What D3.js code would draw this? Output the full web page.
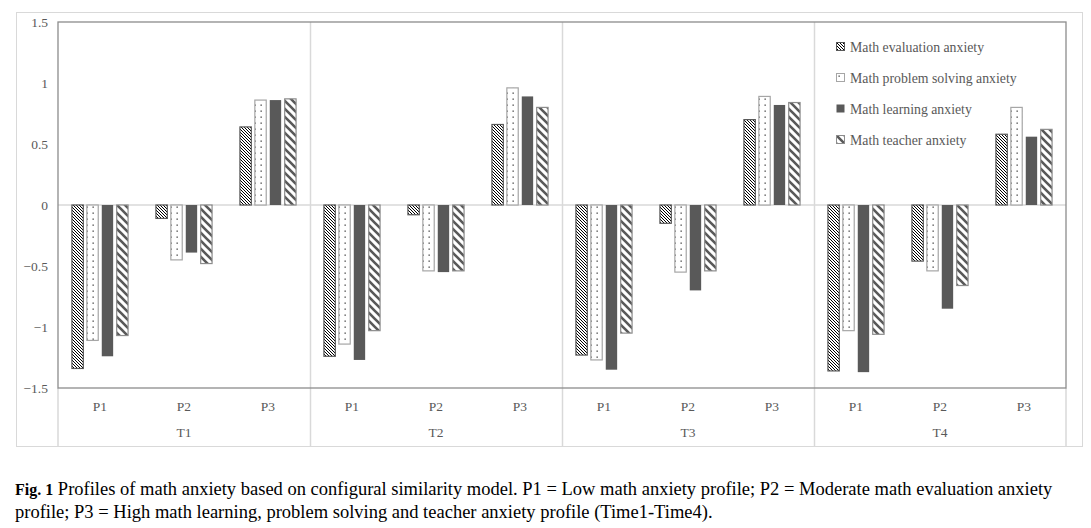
<!DOCTYPE html>
<html>
<head>
<meta charset="utf-8">
<script src="https://cdn.jsdelivr.net/npm/d3@7"></script>
<style>
  body { margin: 0; background: #fff; }
</style>
</head>
<body>
<svg id="chart" width="1091" height="528"></svg>
<script>
const times = ["T1", "T2", "T3", "T4"]
const profiles = ["P1", "P2", "P3"]
const seriesNames = ["Math evaluation anxiety", "Math problem solving anxiety", "Math learning anxiety", "Math teacher anxiety"]
// values per series, ordered T1P1, T1P2, T1P3, T2P1 ... T4P3
const evaluation = [-1.34, -0.11, 0.64, -1.24, -0.08, 0.66, -1.23, -0.15, 0.70, -1.36, -0.46, 0.58]
const problemSolving = [-1.11, -0.45, 0.86, -1.14, -0.54, 0.96, -1.27, -0.55, 0.89, -1.03, -0.54, 0.80]
const learning = [-1.24, -0.39, 0.86, -1.27, -0.55, 0.89, -1.35, -0.70, 0.82, -1.37, -0.85, 0.56]
const teacher = [-1.07, -0.48, 0.87, -1.03, -0.54, 0.80, -1.05, -0.54, 0.84, -1.06, -0.66, 0.62]
const yTicks = [-1.5, -1, -0.5, 0, 0.5, 1, 1.5]

const seriesValues = [evaluation, problemSolving, learning, teacher]
const fills = ["url(#patEval)", "url(#patDots)", "#595959", "url(#patTeach)"]
const strokes = ["#595959", "#a6a6a6", "#595959", "#8c8c8c"]
const serif = "'Liberation Serif', 'DejaVu Serif', serif"

const svg = d3.select("#chart").attr("font-family", serif)
const defs = svg.append("defs")

// dense diagonal hatch
const p1 = defs.append("pattern").attr("id", "patEval")
    .attr("patternUnits", "userSpaceOnUse").attr("width", 3).attr("height", 3)
p1.append("rect").attr("width", 3).attr("height", 3).attr("fill", "#fff")
p1.append("path").attr("d", "M-1,-1 L4,4 M-1,2 L1,4 M2,-1 L4,1")
    .attr("stroke", "#000").attr("stroke-width", 1)

// dotted
const p2 = defs.append("pattern").attr("id", "patDots")
    .attr("patternUnits", "userSpaceOnUse").attr("width", 6).attr("height", 6)
p2.append("rect").attr("width", 6).attr("height", 6).attr("fill", "#fff")
p2.append("rect").attr("x", 2.5).attr("y", 2.5).attr("width", 1.3).attr("height", 1.3).attr("fill", "#404040")

// wide diagonal stripes
const p4 = defs.append("pattern").attr("id", "patTeach")
    .attr("patternUnits", "userSpaceOnUse").attr("width", 8).attr("height", 8)
p4.append("rect").attr("width", 8).attr("height", 8).attr("fill", "#fff")
p4.append("path").attr("d", "M-2,-2 L10,10 M-2,6 L2,10 M6,-2 L10,2")
    .attr("stroke", "#595959").attr("stroke-width", 2.6)

const plotLeft = 58, plotRight = 1066, plotTop = 22, plotBottom = 388

// outer chart frame
svg.append("rect").attr("x", 16.5).attr("y", 12.5).attr("width", 1066).attr("height", 434)
    .attr("fill", "#fff").attr("stroke", "#d9d9d9")

const x0 = d3.scaleBand().domain(times).range([plotLeft, plotRight])
const x1 = d3.scaleBand().domain(profiles).range([0, x0.bandwidth()])
const x2 = d3.scaleBand().domain(d3.range(4)).range([0, x1.bandwidth()])
    .paddingInner(0.17).paddingOuter(0.9)
const y = d3.scaleLinear().domain([-1.5, 1.5]).range([plotBottom, plotTop])

// vertical dividers between times (through the label area)
svg.append("g").selectAll("line")
    .data(times.slice(1))
    .join("line")
    .attr("x1", d => x0(d) + 0.5).attr("x2", d => x0(d) + 0.5)
    .attr("y1", plotTop).attr("y2", 446)
    .attr("stroke", "#d9d9d9").attr("stroke-width", 1.5)
svg.append("line").attr("x1", plotLeft).attr("x2", plotLeft).attr("y1", plotBottom).attr("y2", 446)
    .attr("stroke", "#d9d9d9").attr("stroke-width", 1.5)
svg.append("line").attr("x1", plotRight).attr("x2", plotRight).attr("y1", plotBottom).attr("y2", 446)
    .attr("stroke", "#d9d9d9").attr("stroke-width", 1.5)

// zero line
svg.append("line").attr("x1", plotLeft).attr("x2", plotRight).attr("y1", y(0)).attr("y2", y(0))
    .attr("stroke", "#d9d9d9").attr("stroke-width", 1.5)

// bars
const rows = []
times.forEach((t, ti) => profiles.forEach((p, pi) => seriesValues.forEach((vals, si) => {
    rows.push({ t, p, si, v: vals[ti * 3 + pi] })
})))

svg.append("g").selectAll("rect")
    .data(rows)
    .join("rect")
    .attr("x", d => x0(d.t) + x1(d.p) + x2(d.si) + 0.5)
    .attr("width", x2.bandwidth() - 1)
    .attr("y", d => Math.min(y(d.v), y(0)))
    .attr("height", d => Math.abs(y(d.v) - y(0)))
    .attr("fill", d => fills[d.si])
    .attr("stroke", d => d.si === 2 ? "none" : strokes[d.si])
    .attr("stroke-width", 1.2)

// plot border
svg.append("rect").attr("x", plotLeft).attr("y", plotTop).attr("width", plotRight - plotLeft).attr("height", plotBottom - plotTop)
    .attr("fill", "none").attr("stroke", "#8c8c8c").attr("stroke-width", 1.3)

// y axis
const yAxis = svg.append("g").attr("transform", `translate(${plotLeft - 10},0)`)
    .call(d3.axisLeft(y).tickValues(yTicks).tickSize(0).tickFormat(d3.format("")))
    .attr("font-family", serif)
yAxis.select(".domain").remove()
yAxis.selectAll("text").attr("font-size", 13.5)
    .attr("fill", "#595959").attr("x", 0)

// profile and time labels
const labelRows = []
times.forEach(t => profiles.forEach(p => labelRows.push({ t, p })))
svg.append("g").selectAll("text")
    .data(labelRows)
    .join("text")
    .attr("x", d => x0(d.t) + x1(d.p) + x1.bandwidth() / 2)
    .attr("y", 411)
    .attr("text-anchor", "middle")
    .attr("font-size", 13.5).attr("fill", "#595959")
    .text(d => d.p)
svg.append("g").selectAll("text")
    .data(times)
    .join("text")
    .attr("x", d => x0(d) + x0.bandwidth() / 2)
    .attr("y", 437)
    .attr("text-anchor", "middle")
    .attr("font-size", 13.5).attr("fill", "#595959")
    .text(d => d)

// legend
const legend = svg.append("g").attr("transform", "translate(836,42)")
const items = legend.selectAll("g").data(seriesNames).join("g")
    .attr("transform", (d, i) => `translate(0,${i * 31})`)
items.append("rect").attr("width", 8).attr("height", 8).attr("x", 0.5).attr("y", 0.5)
    .attr("fill", (d, i) => fills[i])
    .attr("stroke", (d, i) => i === 2 ? "none" : strokes[i])
items.append("text").attr("x", 14).attr("y", 9.5)
    .attr("font-size", 13.8).attr("fill", "#595959")
    .text(d => d)

// caption
const cap1 = svg.append("text").attr("x", 15).attr("y", 495).attr("font-size", 18.5).attr("fill", "#000")
cap1.append("tspan").attr("font-weight", "bold").attr("font-size", 16).text("Fig. 1")
cap1.append("tspan").text(" Profiles of math anxiety based on configural similarity model. P1 = Low math anxiety profile; P2 = Moderate math evaluation anxiety")
svg.append("text").attr("x", 15).attr("y", 518).attr("font-size", 18.5).attr("fill", "#000")
    .text("profile; P3 = High math learning, problem solving and teacher anxiety profile (Time1-Time4).")
</script>
</body>
</html>
